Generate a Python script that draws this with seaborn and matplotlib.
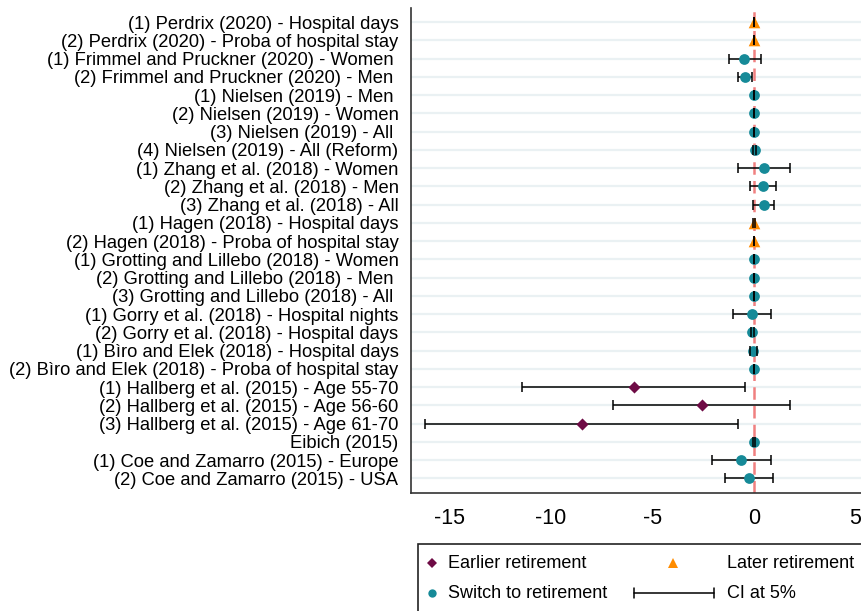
import numpy as np
import pandas as pd
import seaborn as sns
import matplotlib.pyplot as plt
from matplotlib.lines import Line2D
from matplotlib.patches import Rectangle

# --- données ---
etudes = [
    "(1) Perdrix (2020) - Hospital days",
    "(2) Perdrix (2020) - Proba of hospital stay",
    "(1) Frimmel and Pruckner (2020) - Women ",
    "(2) Frimmel and Pruckner (2020) - Men ",
    "(1) Nielsen (2019) - Men ",
    "(2) Nielsen (2019) - Women",
    "(3) Nielsen (2019) - All ",
    "(4) Nielsen (2019) - All (Reform)",
    "(1) Zhang et al. (2018) - Women",
    "(2) Zhang et al. (2018) - Men",
    "(3) Zhang et al. (2018) - All",
    "(1) Hagen (2018) - Hospital days",
    "(2) Hagen (2018) - Proba of hospital stay",
    "(1) Grotting and Lillebo (2018) - Women",
    "(2) Grotting and Lillebo (2018) - Men ",
    "(3) Grotting and Lillebo (2018) - All ",
    "(1) Gorry et al. (2018) - Hospital nights",
    "(2) Gorry et al. (2018) - Hospital days",
    "(1) Bìro and Elek (2018) - Hospital days",
    "(2) Bìro and Elek (2018) - Proba of hospital stay",
    "(1) Hallberg et al. (2015) - Age 55-70",
    "(2) Hallberg et al. (2015) - Age 56-60",
    "(3) Hallberg et al. (2015) - Age 61-70",
    "Eibich (2015)",
    "(1) Coe and Zamarro (2015) - Europe",
    "(2) Coe and Zamarro (2015) - USA",
]
effet = [0.0, 0.0, -0.48, -0.44, 0.0, 0.0, 0.0, 0.03, 0.48, 0.43, 0.49,
         0.0, 0.0, 0.0, 0.0, 0.0, -0.1, -0.1, -0.05, 0.0,
         -5.91, -2.58, -8.49, -0.02, -0.64, -0.26]
ci_bas = [-0.02, -0.02, -1.23, -0.77, -0.02, -0.02, -0.02, -0.05, -0.79, -0.21, -0.03,
          -0.03, -0.02, -0.02, -0.02, -0.02, -1.02, -0.15, -0.22, -0.02,
          -11.41, -6.93, -16.19, -0.07, -2.05, -1.43]
ci_haut = [0.02, 0.02, 0.33, -0.1, 0.02, 0.02, 0.02, 0.1, 1.77, 1.08, 0.98,
           0.03, 0.02, 0.02, 0.02, 0.02, 0.85, 0.0, 0.15, 0.02,
           -0.44, 1.77, -0.77, 0.05, 0.84, 0.92]
type_effet = ["Later", "Later", "Switch", "Switch", "Switch", "Switch", "Switch", "Switch",
              "Switch", "Switch", "Switch", "Later", "Later", "Switch", "Switch", "Switch",
              "Switch", "Switch", "Switch", "Switch", "Earlier", "Earlier", "Earlier",
              "Switch", "Switch", "Switch"]

dados = pd.DataFrame({"etude": etudes, "effet": effet, "bas": ci_bas,
                      "haut": ci_haut, "type": type_effet})
dados["pos"] = np.arange(1, len(dados) + 1)

cores = {"Earlier": "#6E0B45", "Later": "#FF8C00", "Switch": "#168A98"}
marcadores = {"Earlier": "D", "Later": "^", "Switch": "o"}
tamanhos = {"Earlier": 38, "Later": 70, "Switch": 60}

sns.set_style("white")
plt.rcParams["font.family"] = ["Liberation Sans", "DejaVu Sans"]
plt.rcParams["axes.unicode_minus"] = False
plt.rcParams["text.color"] = "black"
plt.rcParams["xtick.color"] = "black"
plt.rcParams["ytick.color"] = "black"

fig = plt.figure(figsize=(8.61, 6.11), dpi=100)
ax = fig.add_axes([411 / 861, 1 - 493 / 611, 1 - 411 / 861, (493 - 8) / 611])

# grille horizontale claire
for p in dados["pos"]:
    ax.axhline(p, color="#EAF1F3", lw=1.6, zorder=0)

ax.axvline(0, color="#F08080", lw=1.8, ls=(0, (5, 2.5)), zorder=1)

_, caps, barras = ax.errorbar(dados["effet"], dados["pos"],
                              xerr=[dados["effet"] - dados["bas"], dados["haut"] - dados["effet"]],
                              fmt="none", ecolor="black", elinewidth=1.1, capsize=3.6,
                              capthick=1.1, zorder=2)
for c in caps:
    c.set_zorder(4)

for t in ["Earlier", "Later", "Switch"]:
    sub = dados[dados["type"] == t]
    sns.scatterplot(data=sub, x="effet", y="pos", marker=marcadores[t], color=cores[t],
                    s=tamanhos[t], linewidth=0, ax=ax, zorder=3, legend=False)

ax.set_xlim(-16.9, 5.27)
ax.set_ylim(26.8, 0.22)
ax.set_xticks([-15, -10, -5, 0, 5])
ax.set_yticks(dados["pos"])
ax.set_yticklabels(dados["etude"], fontsize=13.25)
ax.tick_params(axis="x", labelsize=15.5, length=6.5, width=1, color="#333333", pad=4)
ax.tick_params(axis="y", length=7, width=1, color="#333333", pad=2)
ax.set_xlabel("")
ax.set_ylabel("")
sns.despine(ax=ax, top=True, right=True)
for s in ["left", "bottom"]:
    ax.spines[s].set_color("#333333")
    ax.spines[s].set_linewidth(1.2)

# --- légende faite à la main ---
def px(x, y):
    return x / 861, 1 - y / 611

fig.patches.append(Rectangle(px(418, 640), (880 - 418) / 861, (640 - 544) / 611,
                             transform=fig.transFigure, fill=False, ec="#222222", lw=1.2))
fig.add_artist(Line2D(*zip(px(432, 563)), marker="D", color=cores["Earlier"], ms=5,
                      mew=0, transform=fig.transFigure))
fig.add_artist(Line2D(*zip(px(673, 563)), marker="^", color=cores["Later"], ms=7.5,
                      mew=0, transform=fig.transFigure))
fig.add_artist(Line2D(*zip(px(432, 593)), marker="o", color=cores["Switch"], ms=6,
                      mew=0, transform=fig.transFigure))
x0, y0 = px(634, 593)
x1, _ = px(714, 593)
fig.add_artist(Line2D([x0, x1], [y0, y0], color="black", lw=1.1, transform=fig.transFigure))
for xx in [x0, x1]:
    fig.add_artist(Line2D([xx, xx], [y0 - 0.008, y0 + 0.008], color="black", lw=1.1,
                          transform=fig.transFigure))

for (xx, yy), txt in [((448, 563), "Earlier retirement"), ((727, 563), "Later retirement"),
                      ((448, 593), "Switch to retirement"), ((727, 593), "CI at 5%")]:
    fig.text(*px(xx, yy), txt, fontsize=13, va="center", ha="left")

plt.savefig("out.png", dpi=100)
